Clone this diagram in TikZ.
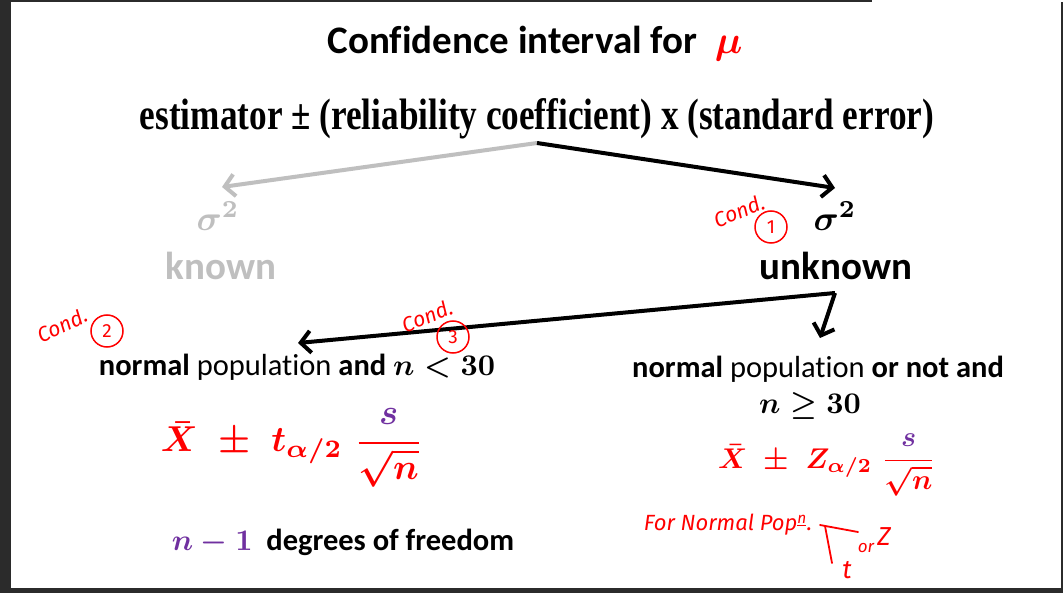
\documentclass[tikz,border=0pt]{standalone}
\usepackage[no-math]{fontspec}
\usepackage{graphicx}
\setmainfont{Carlito}[Ligatures=NoCommon]
\newfontfamily\timesb{Liberation Serif}
\newfontfamily\hand{Fira Sans}
\usetikzlibrary{arrows.meta}
\definecolor{slred}{HTML}{FF0000}
\definecolor{slpurple}{HTML}{7030A0}
\definecolor{slgray}{HTML}{BFBFBF}
\definecolor{frm}{HTML}{2B2B2B}
\newcommand{\bmx}[2]{\scalebox{#1}{\fontsize{10}{12}\selectfont\boldmath$#2$}}
\tikzset{
  conn/.style={line width=4pt,-{Straight Barb[length=10pt,width=22pt]}},
  lbl/.style={inner sep=0pt,anchor=center},
  handtxt/.style={inner sep=0pt,text=slred,font=\hand\itshape\fontsize{21}{21}\selectfont},
  circ/.style={draw=slred,circle,line width=1.5pt,minimum size=32pt,inner sep=0pt,text=slred,font=\hand\fontsize{19}{19}\selectfont},
  hline/.style={draw=slred,line width=1.8pt,line cap=round}
}
\begin{document}
\begin{tikzpicture}[x=1pt,y=-1pt]
\fill[frm] (0,0) rectangle (1063,593);
\fill[white] (11,2) rectangle (1061,588);
\fill[white] (872,0) rectangle (1063,2);
\useasboundingbox (0,0) rectangle (1063,593);

\node[lbl,font=\bfseries\fontsize{39}{39}\selectfont] (title) at (535,44)
  {Confidence interval for\ \ \textcolor{slred}{\bmx{3.9}{\mu}}};
\node[lbl] (est) at (537,119)
  {\scalebox{0.80}[1]{\timesb\bfseries\fontsize{44}{44}\selectfont estimator ± (reliability coefficient) x (standard error)}};

\node[lbl,text=slgray] (sk) at (218,216) {\bmx{3.5}{\sigma^2}};
\node[lbl,text=slgray,font=\bfseries\fontsize{39}{39}\selectfont] (kn) at (221,266) {known};
\node[lbl] (su) at (835,216) {\bmx{3.5}{\sigma^2}};
\node[lbl,font=\bfseries\fontsize{39}{39}\selectfont] (ukn) at (836,266) {unknown};

\coordinate (split) at (537,143);
\coordinate (tipK) at (222,187);
\coordinate (tipU) at (835,188);
\draw[conn,slgray] (split) -- (tipK);
\draw[conn] (split) -- (tipU);

\coordinate (split2) at (835,293);
\coordinate (tipL) at (298,343);
\coordinate (tipR) at (820,338);
\draw[conn] (split2) -- (tipL);
\draw[conn] (split2) -- (tipR);

\node[lbl,font=\fontsize{30.5}{30.5}\selectfont] (lc) at (297,367)
  {\textbf{normal} population \textbf{and} \bmx{3.0}{n<30}};
\node[lbl,font=\fontsize{30.5}{30.5}\selectfont] (rc1) at (818,369)
  {\textbf{normal} population \textbf{or not and}};
\node[lbl] (rc2) at (810,406)
  {\bmx{3.0}{n\geq 30}};

\node[lbl,text=slred] (lf) at (292,448)
  {\bmx{3.6}{\bar X \;\pm\; t_{\alpha/2}\;\displaystyle\frac{\textcolor{slpurple}{s}}{\sqrt{n}}}};
\node[lbl,text=slred] (rf) at (827,465)
  {\bmx{2.85}{\bar X \;\pm\; Z_{\alpha/2}\;\displaystyle\frac{\textcolor{slpurple}{s}}{\sqrt{n}}}};

\node[lbl,font=\fontsize{30.5}{30.5}\selectfont] (dof) at (343,542)
  {\textcolor{slpurple}{\bmx{3.0}{n-1}}\ \ \textbf{degrees of freedom}};

% handwritten annotations
\node[handtxt,rotate=22] (cond1) at (739,211) {Cond.};
\node[circ] (c1) at (771,227) {1};
\node[handtxt,rotate=25] (cond2) at (62,325) {Cond.};
\node[circ] (c2) at (107,331) {2};
\node[handtxt,rotate=22] (cond3) at (427,316) {Cond.};
\node[circ] (c3) at (453,337) {3};
\node[handtxt,font=\hand\itshape\fontsize{22}{22}\selectfont] (fnp) at (728,525) {For Normal Pop\textsuperscript{\underline{n}}.};
\coordinate (tA) at (820,525);
\coordinate (tB) at (858,532);
\coordinate (tC) at (825,526);
\coordinate (tD) at (832,563);
\draw[hline] (tA) -- (tB);
\draw[hline] (tC) -- (tD);
\node[handtxt,font=\hand\itshape\fontsize{26}{26}\selectfont] (ht) at (847,570) {t};
\node[handtxt,font=\hand\itshape\fontsize{17}{17}\selectfont] (hor) at (866,548) {or};
\node[handtxt,font=\hand\itshape\fontsize{26}{26}\selectfont] (hz) at (884,537) {Z};
\end{tikzpicture}
\end{document}
